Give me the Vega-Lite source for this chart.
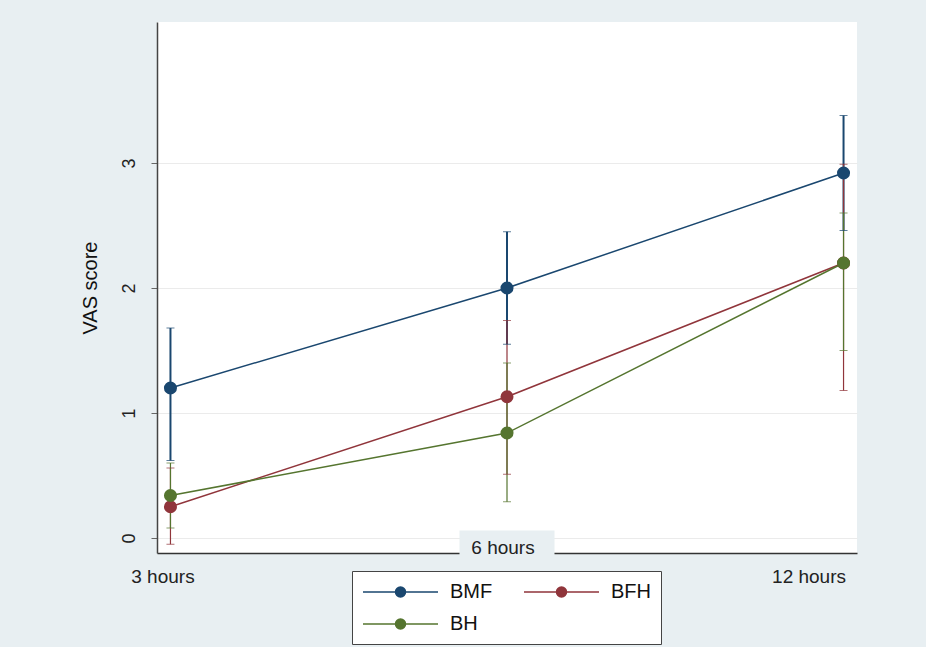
{
  "$schema": "https://vega.github.io/schema/vega-lite/v6.json",
  "width": 700,
  "height": 531,
  "autosize": {"type": "none"},
  "padding": {"left": 157, "top": 22, "right": 69, "bottom": 94},
  "background": "#e8eff2",
  "config": {"view": {"fill": "white", "stroke": null}, "font": "Liberation Sans"},
  "data": {
    "values": [
      {"series": "BMF", "time": "3 hours", "mean": 1.2, "lo": 0.62, "hi": 1.68},
      {"series": "BMF", "time": "6 hours", "mean": 2.0, "lo": 1.55, "hi": 2.45},
      {"series": "BMF", "time": "12 hours", "mean": 2.92, "lo": 2.46, "hi": 3.38},
      {"series": "BFH", "time": "3 hours", "mean": 0.25, "lo": -0.05, "hi": 0.56},
      {"series": "BFH", "time": "6 hours", "mean": 1.13, "lo": 0.51, "hi": 1.74},
      {"series": "BFH", "time": "12 hours", "mean": 2.2, "lo": 1.18, "hi": 2.99},
      {"series": "BH", "time": "3 hours", "mean": 0.34, "lo": 0.08, "hi": 0.6},
      {"series": "BH", "time": "6 hours", "mean": 0.84, "lo": 0.29, "hi": 1.4},
      {"series": "BH", "time": "12 hours", "mean": 2.2, "lo": 1.5, "hi": 2.6}
    ]
  },
  "encoding": {
    "x": {
      "field": "time",
      "type": "ordinal",
      "sort": ["3 hours", "6 hours", "12 hours"],
      "scale": {"type": "point", "padding": 0.04},
      "axis": {
        "title": null,
        "ticks": false,
        "grid": false,
        "labelAngle": 0,
        "labelFontSize": 19,
        "labelColor": "#222",
        "labelPadding": 14,
        "domainColor": "#333",
        "domainWidth": 1.5,
        "labelExpr": "datum.label === '6 hours' ? '' : datum.label",
        "labelOffset": {"condition": [{"test": "datum.value === '3 hours'", "value": -8}, {"test": "datum.value === '12 hours'", "value": -35}], "value": 0}
      }
    },
    "color": {
      "field": "series",
      "type": "nominal",
      "scale": {"domain": ["BMF", "BFH", "BH"], "range": ["#1a476f", "#90353b", "#55752f"]},
      "legend": {
        "title": null,
        "orient": "none",
        "direction": "horizontal",
        "legendX": 195,
        "legendY": 549,
        "columns": 2,
        "symbolType": "M-1,0H2.25A0.5,0.5 0 1,1 3.25,0A0.5,0.5 0 1,1 2.25,0M3.25,0H6.5",
        "symbolSize": 400,
        "symbolStrokeWidth": 1.5,
        "symbolOpacity": 1,
        "labelFontSize": 20,
        "labelColor": "#111",
        "labelOffset": 66,
        "columnPadding": 28,
        "rowPadding": 11,
        "padding": 10,
        "strokeColor": "#444",
        "fillColor": "white"
      }
    }
  },
  "layer": [
    {
      "mark": {"type": "rule"},
      "encoding": {
        "y": {
          "field": "lo",
          "type": "quantitative",
          "scale": {"domain": [-0.12, 4.128], "nice": false, "zero": false},
          "axis": {
            "values": [0, 1, 2, 3],
            "format": "d",
            "labelAngle": -90,
            "labelFontSize": 18,
            "labelColor": "#222",
            "labelPadding": 13,
            "tickSize": 6,
            "tickColor": "#666",
            "domainColor": "#444",
            "domainWidth": 1.5,
            "gridColor": "#ebebeb",
            "title": "VAS score",
            "titleFontSize": 20,
            "titleFontWeight": "normal",
            "titleColor": "#111",
            "titlePadding": 20
          }
        },
        "y2": {"field": "hi"},
        "strokeWidth": {"condition": {"test": "datum.series === 'BMF'", "value": 2}, "value": 1.2}
      }
    },
    {
      "mark": {"type": "tick", "orient": "horizontal", "size": 8, "thickness": 1},
      "encoding": {"y": {"field": "lo", "type": "quantitative"}}
    },
    {
      "mark": {"type": "tick", "orient": "horizontal", "size": 8, "thickness": 1},
      "encoding": {"y": {"field": "hi", "type": "quantitative"}}
    },
    {
      "mark": {"type": "line", "strokeWidth": 1.5},
      "encoding": {"y": {"field": "mean", "type": "quantitative"}}
    },
    {
      "mark": {"type": "point", "filled": true, "size": 170, "opacity": 1},
      "encoding": {"y": {"field": "mean", "type": "quantitative"}}
    },
    {
      "data": {"values": [{"time": "6 hours"}]},
      "mark": {"type": "point", "filled": true, "shape": "M-1,-0.316H1V0.316H-1Z", "size": 9025, "opacity": 1, "color": "#e8eff2"},
      "encoding": {"x": {"field": "time", "type": "ordinal"}, "y": {"datum": -0.06}, "color": {"value": "#e8eff2"}}
    },
    {
      "data": {"values": [{"time": "6 hours"}]},
      "mark": {"type": "text", "fontSize": 19, "color": "#222", "baseline": "middle", "dx": -4},
      "encoding": {"x": {"field": "time", "type": "ordinal"}, "y": {"datum": -0.08}, "text": {"field": "time"}, "color": {"value": "#222"}}
    }
  ]
}
